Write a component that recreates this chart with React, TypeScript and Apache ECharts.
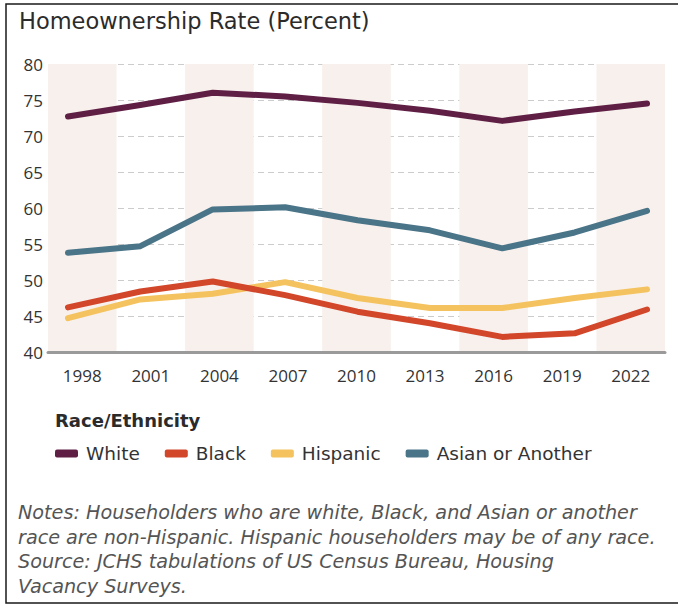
import React, { useEffect, useRef } from "react";
import * as echarts from "echarts";

const years = ["1998", "2001", "2004", "2007", "2010", "2013", "2016", "2019", "2022"];
const white = [72.7, 74.3, 76.0, 75.5, 74.6, 73.5, 72.1, 73.4, 74.5];
const black = [46.2, 48.4, 49.8, 47.9, 45.6, 44.0, 42.1, 42.6, 45.9];
const hispanic = [44.7, 47.3, 48.1, 49.7, 47.5, 46.1, 46.1, 47.5, 48.7];
const asian = [53.8, 54.7, 59.8, 60.1, 58.3, 56.9, 54.4, 56.6, 59.6];
const seriesNames = ["White", "Black", "Hispanic", "Asian or Another"];
const seriesColors = ["#5f1f45", "#d2462a", "#f4c35f", "#4a7488"];
const yMin = 40;
const yMax = 80;
const yStep = 5;
const titleText = "Homeownership Rate (Percent)";
const legendTitle = "Race/Ethnicity";
const noteLines = [
  "Notes: Householders who are white, Black, and Asian or another",
  "race are non-Hispanic. Hispanic householders may be of any race.",
  "Source: JCHS tabulations of US Census Bureau, Housing",
  "Vacancy Surveys.",
];

const FONT = "'Open Sans', 'Noto Sans', sans-serif";
const WIDE = "'DejaVu Sans', sans-serif";

export default function App() {
  const ref = useRef<HTMLDivElement>(null);
  useEffect(() => {
    if (!ref.current) return;
    const chart = echarts.init(ref.current, null, { renderer: "svg" });
    const data = [white, black, hispanic, asian];
    const option: any = {
      animation: false,
      backgroundColor: "#ffffff",
      textStyle: { fontFamily: FONT },
      grid: [
        { left: 48, right: 13, top: 64, bottom: 256 },
        { left: 68, right: 31, top: 64, bottom: 256 },
      ],
      xAxis: [
        {
          type: "category",
          gridIndex: 0,
          data: years,
          boundaryGap: true,
          axisLine: { show: true, lineStyle: { color: "#9a9a9a", width: 3 } },
          axisTick: { show: false },
          axisLabel: { color: "#333", fontSize: 17, margin: 15, fontFamily: FONT },
          splitLine: { show: false },
          splitArea: {
            show: true,
            areaStyle: { color: ["#f8f0ec", "rgba(255,255,255,0)"] },
          },
        },
        {
          type: "category",
          gridIndex: 1,
          data: years,
          boundaryGap: false,
          show: false,
        },
      ],
      yAxis: [
        {
          type: "value",
          gridIndex: 0,
          min: yMin,
          max: yMax,
          interval: yStep,
          axisLine: { show: false },
          axisTick: { show: false },
          axisLabel: { color: "#333", fontSize: 17, margin: 5, fontFamily: FONT },
          splitLine: { show: true, lineStyle: { color: "#cccccc", type: [6, 4], width: 1 } },
        },
        {
          type: "value",
          gridIndex: 1,
          min: yMin,
          max: yMax,
          interval: yStep,
          show: false,
          splitLine: { show: false },
        },
      ],
      legend: {
        left: 55,
        top: 444,
        padding: 0,
        itemWidth: 23,
        itemHeight: 8,
        itemGap: 25,
        icon: "roundRect",
        data: seriesNames,
        textStyle: { color: "#333", fontSize: 18.5, fontFamily: WIDE, padding: [0, 0, 0, 3] },
      },
      series: seriesNames.map((name, i) => ({
        name,
        type: "line",
        xAxisIndex: 1,
        yAxisIndex: 1,
        data: data[i],
        symbol: "none",
        itemStyle: { color: seriesColors[i] },
        lineStyle: { color: seriesColors[i], width: 6, cap: "round", join: "round" },
        z: 3 + (i === 1 ? 1 : 0),
      })),
      graphic: [
        {
          type: "rect",
          shape: { x: 6, y: 4, width: 700, height: 599 },
          style: { fill: "none", stroke: "#1a1a1a", lineWidth: 1.5 },
          silent: true,
        },
        {
          type: "text",
          left: 19,
          top: 9,
          style: { text: titleText, fontSize: 22.5, fill: "#2b2b2b", fontFamily: WIDE },
        },
        {
          type: "text",
          left: 55,
          top: 411,
          style: { text: legendTitle, fontSize: 18, fontWeight: "bold", fill: "#2b2b2b", fontFamily: WIDE },
        },
        ...noteLines.map((line, i) => ({
          type: "text",
          left: 18,
          top: 503 + i * 24.5,
          style: { text: line, fontSize: 19.2, fontStyle: "italic", fill: "#555555", fontFamily: WIDE },
        })),
      ],
    };
    chart.setOption(option);
    return () => chart.dispose();
  }, []);
  return (
    <div
      ref={ref}
      style={{ position: "fixed", left: 0, top: 0, width: 678, height: 608, background: "#fff" }}
    />
  );
}
